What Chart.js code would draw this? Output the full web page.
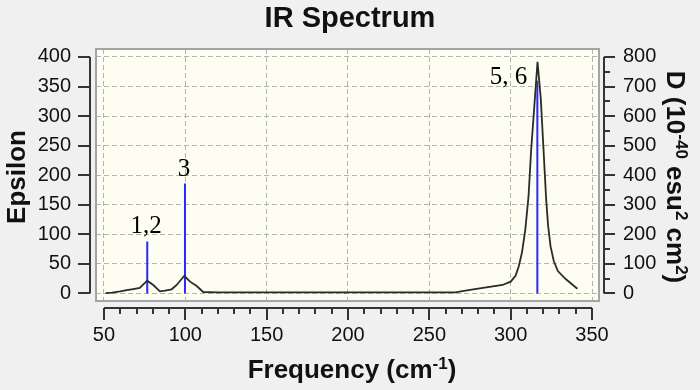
<!DOCTYPE html>
<html>
<head>
<meta charset="utf-8">
<title>IR Spectrum</title>
<script src="https://cdn.jsdelivr.net/npm/chart.js@4.4.1/dist/chart.umd.min.js"></script>
<style>
  html, body { margin: 0; padding: 0; background: #f0f0f0; }
  #irChart { display: block; }
</style>
</head>
<body>
<canvas id="irChart" width="700" height="390"></canvas>
<script>
// Curva ensanchada (Epsilon)
const curveFreq = [51, 55, 60, 64, 68, 72, 76.6, 80.3, 84.4, 87.5, 91.6, 94.7, 99.4, 102.9, 107, 111,
                   120, 160, 200, 240, 266, 275, 285, 295, 300, 303, 305, 307, 309, 311, 312.6, 314.5,
                   316.5, 318.5, 320.2, 321.8, 323, 324.5, 326.5, 329, 334, 341];
const curveEps  = [0.5, 1.5, 3.5, 5.5, 7.5, 9.5, 21.7, 14.4, 3.7, 4.7, 7.1, 14.4, 30, 20, 12.7, 2.5,
                   2, 2, 2, 2, 2, 6, 10.5, 14.4, 20, 30, 46, 70, 108, 165, 243, 315,
                   392, 330, 243, 160, 115, 80, 55, 38, 24, 8];

// Modos normales (barras azules)
const modeFreq   = [76.6, 99.8, 198, 316.4];
const modeEps    = [88, 186, 1, 360];
const modeLabels = ['1,2', '3', '', '5, 6'];

// Marcas de los ejes
const freqTicks = [50, 100, 150, 200, 250, 300, 350];
const epsTicks  = [0, 50, 100, 150, 200, 250, 300, 350, 400];
const dTicks    = [0, 100, 200, 300, 400, 500, 600, 700, 800];

const SANS = '"Liberation Sans", Arial, sans-serif';
const SERIF = '"Liberation Serif", "Times New Roman", serif';
const AXIS_COLOR = '#333';

// Texto con superindices: parts = [[texto, esSuper], ...], centrado en (0,0)
function drawRich(ctx, parts, size) {
    const supSize = Math.round(size * 0.66);
    let total = 0;
    const widths = parts.map(([t, sup]) => {
        ctx.font = `bold ${sup ? supSize : size}px ${SANS}`;
        const w = ctx.measureText(t).width;
        total += w;
        return w;
    });
    let x = -total / 2;
    parts.forEach(([t, sup], i) => {
        ctx.font = `bold ${sup ? supSize : size}px ${SANS}`;
        ctx.fillText(t, x, sup ? -size * 0.36 : 0);
        x += widths[i];
    });
}

const spectrumAxes = {
    id: 'spectrumAxes',
    beforeDraw(chart) {
        const { ctx, chartArea: a } = chart;
        ctx.save();
        ctx.fillStyle = '#f0f0f0';
        ctx.fillRect(0, 0, chart.width, chart.height);
        ctx.fillStyle = '#fdfdf2';
        ctx.fillRect(a.left, a.top, a.right - a.left, a.bottom - a.top);
        ctx.restore();
    },
    afterDatasetsDraw(chart) {
        const { ctx, chartArea: a } = chart;
        const x = chart.scales.x, y = chart.scales.y;
        ctx.save();
        ctx.fillStyle = '#000';
        ctx.font = `25px ${SERIF}`;
        ctx.textBaseline = 'alphabetic';
        modeLabels.forEach((lbl, i) => {
            if (!lbl) return;
            const px = x.getPixelForValue(modeFreq[i]);
            const py = y.getPixelForValue(modeEps[i]);
            if (py < a.top + 40) {
                // pico alto: etiqueta a la izquierda
                ctx.textAlign = 'right';
                ctx.fillText(lbl, px - 10, py + 3);
            } else {
                ctx.textAlign = 'center';
                ctx.fillText(lbl, px - 1, py - 8);
            }
        });
        ctx.restore();
    },
    afterDraw(chart) {
        const { ctx, chartArea: a } = chart;
        const x = chart.scales.x, yl = chart.scales.y, yr = chart.scales.y2;
        ctx.save();

        // marco del area de datos
        ctx.strokeStyle = '#a4a4a4';
        ctx.lineWidth = 2;
        ctx.strokeRect(a.left, a.top, a.right - a.left, a.bottom - a.top);

        ctx.strokeStyle = AXIS_COLOR;
        ctx.lineWidth = 2;
        ctx.beginPath();
        // eje x separado
        const xy = a.bottom + 7;
        ctx.moveTo(x.getPixelForValue(freqTicks[0]), xy);
        ctx.lineTo(x.getPixelForValue(freqTicks[freqTicks.length - 1]), xy);
        for (let v = freqTicks[0]; v <= freqTicks[freqTicks.length - 1]; v += 10) {
            const px = Math.round(x.getPixelForValue(v));
            ctx.moveTo(px, xy);
            ctx.lineTo(px, xy + (v % 50 === 0 ? 12 : 6));
        }
        // eje izquierdo
        const lx = a.left - 6;
        ctx.moveTo(lx, yl.getPixelForValue(epsTicks[0]));
        ctx.lineTo(lx, yl.getPixelForValue(epsTicks[epsTicks.length - 1]));
        epsTicks.forEach(v => {
            const py = Math.round(yl.getPixelForValue(v));
            ctx.moveTo(lx, py);
            ctx.lineTo(lx - 12, py);
        });
        // eje derecho
        const rx = a.right + 5;
        ctx.moveTo(rx, yr.getPixelForValue(dTicks[0]));
        ctx.lineTo(rx, yr.getPixelForValue(dTicks[dTicks.length - 1]));
        for (let v = dTicks[0]; v <= dTicks[dTicks.length - 1]; v += 50) {
            const py = Math.round(yr.getPixelForValue(v));
            ctx.moveTo(rx, py);
            ctx.lineTo(rx + (v % 100 === 0 ? 11 : 6), py);
        }
        ctx.stroke();

        // titulos de los ejes
        ctx.fillStyle = '#111';
        ctx.textAlign = 'left';
        ctx.textBaseline = 'alphabetic';

        ctx.save();
        ctx.translate(352, 378);
        drawRich(ctx, [['Frequency (cm', false], ['-1', true], [')', false]], 26);
        ctx.restore();

        ctx.save();
        ctx.translate(25, 177);
        ctx.rotate(-Math.PI / 2);
        drawRich(ctx, [['Epsilon', false]], 26);
        ctx.restore();

        ctx.save();
        ctx.translate(667, 177);
        ctx.rotate(Math.PI / 2);
        drawRich(ctx, [['D (10', false], ['-40', true], [' esu', false], ['2', true],
                       [' cm', false], ['2', true], [')', false]], 26);
        ctx.restore();

        ctx.restore();
    }
};

// datos de las barras: base, tope y un hueco
const stickPoints = [];
modeFreq.forEach((f, i) => {
    stickPoints.push({ x: f, y: 0 }, { x: f, y: modeEps[i] }, { x: f, y: null });
});

const tickFont = { family: SANS, size: 20 };

new Chart(document.getElementById('irChart'), {
    type: 'line',
    data: {
        datasets: [{
            label: 'Epsilon',
            data: curveFreq.map((f, i) => ({ x: f, y: curveEps[i] })),
            borderColor: '#2b2b2b',
            borderWidth: 1.8,
            pointRadius: 0,
            tension: 0,
            fill: false,
            yAxisID: 'y'
        }, {
            label: 'Modos',
            data: stickPoints,
            borderColor: '#2a2aff',
            borderWidth: 2,
            pointRadius: 0,
            spanGaps: false,
            fill: false,
            yAxisID: 'y'
        }]
    },
    options: {
        responsive: false,
        animation: false,
        events: [],
        layout: { padding: 0 },
        plugins: {
            legend: { display: false },
            tooltip: { enabled: false },
            title: {
                display: true,
                text: 'IR Spectrum',
                color: '#111',
                font: { family: SANS, size: 29, weight: 'bold', lineHeight: 1.2 },
                padding: { top: 2, bottom: 12.2 }
            }
        },
        scales: {
            x: {
                type: 'linear',
                min: 45.1,
                max: 354.3,
                afterFit: s => { s.height = 89; },
                afterBuildTicks: s => { s.ticks = freqTicks.map(v => ({ value: v })); },
                grid: { drawTicks: false, color: '#b4b4b4', lineWidth: 1 },
                border: { display: false, dash: [5, 3] },
                ticks: { padding: 22, font: tickFont, color: '#111', maxRotation: 0 }
            },
            y: {
                position: 'left',
                min: -12.7,
                max: 413.5,
                afterFit: s => { s.width = 96; },
                afterBuildTicks: s => { s.ticks = epsTicks.map(v => ({ value: v })); },
                grid: { drawTicks: false, color: '#b4b4b4', lineWidth: 1 },
                border: { display: false, dash: [5, 3] },
                ticks: { padding: 25, font: tickFont, color: '#111' }
            },
            y2: {
                position: 'right',
                min: -25.4,
                max: 827,
                afterFit: s => { s.width = 101; },
                afterBuildTicks: s => { s.ticks = dTicks.map(v => ({ value: v })); },
                grid: { display: false, drawTicks: false },
                border: { display: false },
                ticks: { padding: 24, font: tickFont, color: '#111' }
            }
        }
    },
    plugins: [spectrumAxes]
});
</script>
</body>
</html>
